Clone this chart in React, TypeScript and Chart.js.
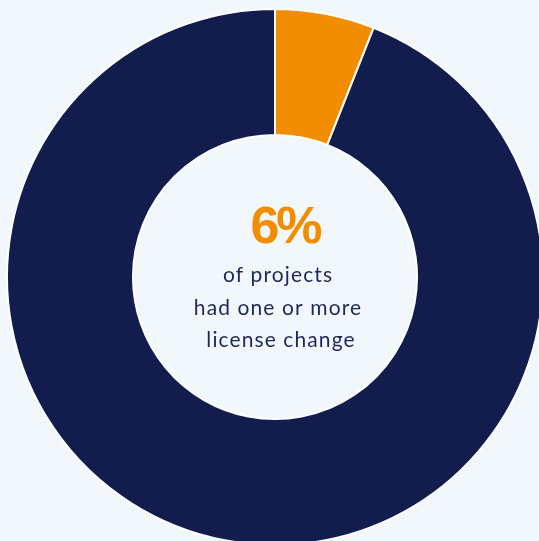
import React, { useEffect, useRef } from "react";
import { Chart, registerables } from "chart.js";

Chart.register(...registerables);

const categories = ["Had license change", "No license change"];
const values = [6, 94];
const colors = ["#f28c00", "#121d4e"];
const headline = "6%";
const captionLines = ["of projects", "had one or more", "license change"];

const centerText = {
  id: "centerText",
  afterDraw(chart: any) {
    const meta = chart.getDatasetMeta(0);
    const arc = meta.data[0];
    if (!arc) return;
    const cx = arc.x;
    const cy = arc.y;
    const ctx = chart.ctx;
    ctx.save();
    ctx.textAlign = "center";
    ctx.textBaseline = "alphabetic";
    ctx.fillStyle = "#f28c00";
    ctx.font = "bold 52px 'Liberation Sans', Arial, sans-serif";
    (ctx as any).letterSpacing = "-3px";
    ctx.fillText(headline, cx + 10, cy - 34);
    ctx.fillStyle = "#1c2857";
    ctx.font = "21px Lato, sans-serif";
    (ctx as any).letterSpacing = "1.1px";
    const base = [cy + 5, cy + 38, cy + 70];
    const dx = [3, 3, 6];
    captionLines.forEach((t, i) => ctx.fillText(t, cx + dx[i], base[i]));
    ctx.restore();
  },
};

export default function App() {
  const ref = useRef<HTMLCanvasElement>(null);
  useEffect(() => {
    document.documentElement.style.background = "#f2f7fc";
    document.body.style.background = "#f2f7fc";
    const chart = new Chart(ref.current!, {
      type: "doughnut",
      data: {
        labels: categories,
        datasets: [
          {
            data: values,
            backgroundColor: colors,
            borderColor: "#ffffff",
            borderWidth: 2,
          },
        ],
      },
      options: {
        responsive: false,
        animation: false,
        cutout: "53%",
        plugins: { legend: { display: false }, tooltip: { enabled: false } },
        layout: { padding: 0 },
      },
      plugins: [centerText],
    });
    return () => chart.destroy();
  }, []);
  return (
    <div
      style={{
        position: "fixed",
        left: 0,
        top: 0,
        width: 539,
        height: 541,
        overflow: "hidden",
        background: "#f2f7fc",
      }}
    >
      <canvas
        ref={ref}
        width={538}
        height={538}
        style={{ position: "absolute", left: 6, top: 8, display: "block" }}
      />
    </div>
  );
}
